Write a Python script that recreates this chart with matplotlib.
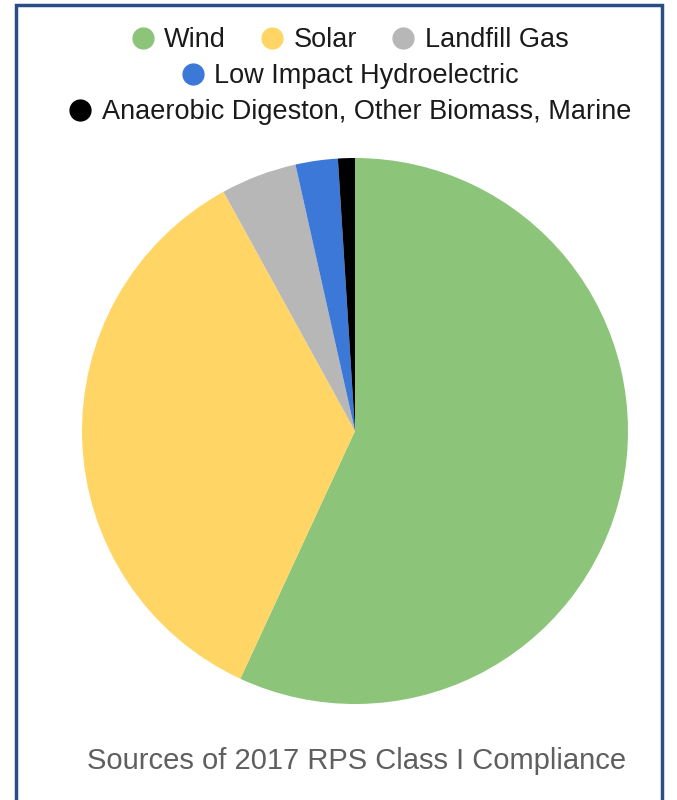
import matplotlib
matplotlib.use("Agg")
import matplotlib.pyplot as plt
from matplotlib.lines import Line2D
from matplotlib.patches import Rectangle

plt.rcParams['font.family'] = ['Liberation Sans', 'DejaVu Sans']

# Share of 2017 RPS Class I compliance by source (%)
categories = ["Wind", "Solar", "Landfill Gas", "Low Impact Hydroelectric",
              "Anaerobic Digeston, Other Biomass, Marine"]
shares = [56.9, 35.1, 4.5, 2.5, 1.0]
colors = ["#8cc47a", "#ffd666", "#b7b7b7", "#3c78d8", "#000000"]
title = "Sources of 2017 RPS Class I Compliance"

W, H = 677, 800
fig = plt.figure(figsize=(W / 100, H / 100), dpi=100)

# outer frame (open at the bottom edge)
fig.patches.append(Rectangle((16 / W, -0.05), (662 - 16) / W, (H - 5) / H + 0.05,
                             transform=fig.transFigure, fill=False,
                             edgecolor="#2a4d85", linewidth=2.5))

# pie axes
cx, cy, r = 355, 431, 273
ax = fig.add_axes([(cx - r) / W, (H - cy - r) / H, 2 * r / W, 2 * r / H])
ax.pie(shares, colors=colors, startangle=90, counterclock=False,
       radius=1.0, wedgeprops=dict(linewidth=0))
ax.set_xlim(-1, 1)
ax.set_ylim(-1, 1)
ax.set_aspect("equal")
ax.axis("off")

# legend rows, each centred
handles = [Line2D([], [], marker="o", linestyle="", markersize=15,
                  markerfacecolor=c, markeredgecolor=c) for c in colors]
rows = [([0, 1, 2], 40), ([3], 76), ([4], 112)]
for idx, y in rows:
    leg = fig.legend([handles[i] for i in idx], [categories[i] for i in idx],
                     loc="center", bbox_to_anchor=(349 / W, 1 - y / H),
                     ncol=len(idx), frameon=False, fontsize=19.5,
                     handletextpad=0.3, columnspacing=1.2, handlelength=1.0,
                     borderaxespad=0, borderpad=0)
    for t in leg.get_texts():
        t.set_color("#1a1a1a")

fig.text(357 / W, 1 - 761 / H, title, ha="center", va="center",
         fontsize=21, color="#5f5f5f")

fig.savefig("out.png", dpi=100, facecolor="white")
